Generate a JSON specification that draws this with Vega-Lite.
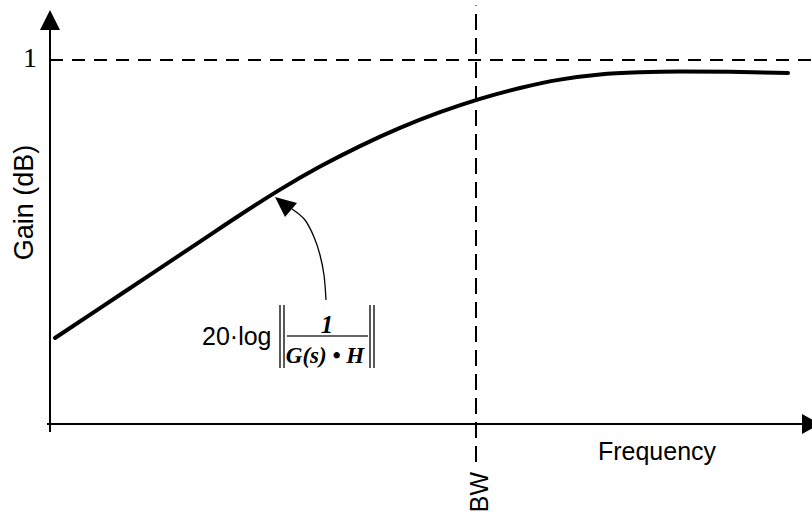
{
  "$schema": "https://vega.github.io/schema/vega-lite/v6.json",
  "width": 812,
  "height": 514,
  "autosize": {"type": "none"},
  "padding": 0,
  "background": "white",
  "config": {"view": {"stroke": null}},
  "datasets": {
    "gain": [
      {"i": 0, "x": 0.011737, "y": 0.236264},
      {"i": 1, "x": 0.117371, "y": 0.318407},
      {"i": 2, "x": 0.234742, "y": 0.409890},
      {"i": 3, "x": 0.352113, "y": 0.501099},
      {"i": 4, "x": 0.446009, "y": 0.574231},
      {"i": 5, "x": 0.539906, "y": 0.643956},
      {"i": 6, "x": 0.633803, "y": 0.707143},
      {"i": 7, "x": 0.727700, "y": 0.763462},
      {"i": 8, "x": 0.821596, "y": 0.813462},
      {"i": 9, "x": 0.915493, "y": 0.856593},
      {"i": 10, "x": 1.009390, "y": 0.893132},
      {"i": 11, "x": 1.103286, "y": 0.923077},
      {"i": 12, "x": 1.197183, "y": 0.946154},
      {"i": 13, "x": 1.291080, "y": 0.960165},
      {"i": 14, "x": 1.384977, "y": 0.966209},
      {"i": 15, "x": 1.478873, "y": 0.968407},
      {"i": 16, "x": 1.596244, "y": 0.967582},
      {"i": 17, "x": 1.732394, "y": 0.964286}
    ],
    "unityLine": [{"x": 0, "x2": 1.78873, "y": 1}],
    "bwLine": [{"x": 1, "y": -0.1044, "y2": 1.15}],
    "yAxisLine": [{"x": 0, "y": -0.022, "y2": 1.0879}],
    "xAxisLine": [{"x": -0.00704, "x2": 1.76995, "y": 0}],
    "yArrow": [{"x": 0, "y": 1.10989}],
    "xArrow": [{"x": 1.78638, "y": 0}],
    "pointer": [
      {"i": 0, "x": 0.64789, "y": 0.34066},
      {"i": 1, "x": 0.64319, "y": 0.40934},
      {"i": 2, "x": 0.63380, "y": 0.46429},
      {"i": 3, "x": 0.61972, "y": 0.51374},
      {"i": 4, "x": 0.59859, "y": 0.56044},
      {"i": 5, "x": 0.56808, "y": 0.59066}
    ],
    "pointerHead": [{"x": 0.55164, "y": 0.60165}],
    "normBars": [
      {"x": 0.53991, "y": 0.15385, "y2": 0.32692},
      {"x": 0.54930, "y": 0.15385, "y2": 0.32692},
      {"x": 0.75117, "y": 0.15385, "y2": 0.32692},
      {"x": 0.76056, "y": 0.15385, "y2": 0.32692}
    ],
    "fracLine": [{"x": 0.55634, "x2": 0.74648, "y": 0.24176}],
    "logText": [{"x": 0.35681, "y": 0.21703, "label": "20·log"}],
    "numer": [{"x": 0.65023, "y": 0.25, "label": "1"}],
    "denom": [{"x": 0.64554, "y": 0.16758, "label": "G(s) • H"}],
    "oneLabel": [{"x": -0.04695, "y": 0.98077, "label": "1"}],
    "freqLabel": [{"x": 1.42488, "y": -0.098901, "label": "Frequency"}],
    "gainLabel": [{"x": -0.039906, "y": 0.60852, "label": "Gain (dB)"}],
    "bwLabel": [{"x": 1.02817, "y": -0.186813, "label": "BW"}]
  },
  "encoding": {
    "x": {"field": "x", "type": "quantitative", "scale": {"domain": [-0.11737, 1.78873], "nice": false, "zero": false}, "axis": null},
    "y": {"field": "y", "type": "quantitative", "scale": {"domain": [-0.247253, 1.164835], "nice": false, "zero": false}, "axis": null}
  },
  "layer": [
    {
      "data": {"name": "unityLine"},
      "mark": {"type": "rule", "color": "black", "strokeWidth": 2, "strokeDash": [13, 9]},
      "encoding": {"x2": {"field": "x2"}}
    },
    {
      "data": {"name": "bwLine"},
      "mark": {"type": "rule", "color": "black", "strokeWidth": 2, "strokeDash": [16, 8]},
      "encoding": {"y2": {"field": "y2"}}
    },
    {
      "data": {"name": "yAxisLine"},
      "mark": {"type": "rule", "color": "black", "strokeWidth": 2},
      "encoding": {"y2": {"field": "y2"}}
    },
    {
      "data": {"name": "xAxisLine"},
      "mark": {"type": "rule", "color": "black", "strokeWidth": 2},
      "encoding": {"x2": {"field": "x2"}}
    },
    {
      "data": {"name": "yArrow"},
      "mark": {"type": "point", "shape": "M0,-1L1,1L-1,1Z", "size": 400, "filled": true, "color": "black", "opacity": 1}
    },
    {
      "data": {"name": "xArrow"},
      "mark": {"type": "point", "shape": "M0.9,0L-0.9,-1L-0.9,1Z", "size": 400, "filled": true, "color": "black", "opacity": 1}
    },
    {
      "data": {"name": "gain"},
      "mark": {"type": "line", "color": "black", "strokeWidth": 4, "interpolate": "monotone", "strokeCap": "round"},
      "encoding": {"order": {"field": "i", "type": "quantitative"}}
    },
    {
      "data": {"name": "pointer"},
      "mark": {"type": "line", "color": "black", "strokeWidth": 1.3, "interpolate": "cardinal"},
      "encoding": {"order": {"field": "i", "type": "quantitative"}}
    },
    {
      "data": {"name": "pointerHead"},
      "mark": {"type": "point", "shape": "M-1,-0.8L0,1.2L1.2,-0.2Z", "size": 400, "filled": true, "color": "black", "opacity": 1}
    },
    {
      "data": {"name": "normBars"},
      "mark": {"type": "rule", "color": "black", "strokeWidth": 1.3},
      "encoding": {"y2": {"field": "y2"}}
    },
    {
      "data": {"name": "fracLine"},
      "mark": {"type": "rule", "color": "#333333", "strokeWidth": 1.4},
      "encoding": {"x2": {"field": "x2"}}
    },
    {
      "data": {"name": "logText"},
      "mark": {"type": "text", "font": "Liberation Sans", "fontSize": 25, "align": "left", "baseline": "alphabetic", "color": "black"},
      "encoding": {"text": {"field": "label"}}
    },
    {
      "data": {"name": "numer"},
      "mark": {"type": "text", "font": "Liberation Serif", "fontSize": 25, "fontStyle": "italic", "fontWeight": "bold", "align": "center", "baseline": "alphabetic", "color": "black"},
      "encoding": {"text": {"field": "label"}}
    },
    {
      "data": {"name": "denom"},
      "mark": {"type": "text", "font": "Liberation Serif", "fontSize": 23, "fontStyle": "italic", "fontWeight": "bold", "align": "center", "baseline": "alphabetic", "color": "black"},
      "encoding": {"text": {"field": "label"}}
    },
    {
      "data": {"name": "oneLabel"},
      "mark": {"type": "text", "font": "Liberation Serif", "fontSize": 28, "align": "center", "baseline": "alphabetic", "color": "black"},
      "encoding": {"text": {"field": "label"}}
    },
    {
      "data": {"name": "freqLabel"},
      "mark": {"type": "text", "font": "Liberation Sans", "fontSize": 25, "align": "center", "baseline": "alphabetic", "color": "black"},
      "encoding": {"text": {"field": "label"}}
    },
    {
      "data": {"name": "gainLabel"},
      "mark": {"type": "text", "font": "Liberation Sans", "fontSize": 27, "angle": 270, "align": "center", "baseline": "alphabetic", "color": "black"},
      "encoding": {"text": {"field": "label"}}
    },
    {
      "data": {"name": "bwLabel"},
      "mark": {"type": "text", "font": "Liberation Sans", "fontSize": 25, "angle": 270, "align": "center", "baseline": "alphabetic", "color": "black"},
      "encoding": {"text": {"field": "label"}}
    }
  ]
}
